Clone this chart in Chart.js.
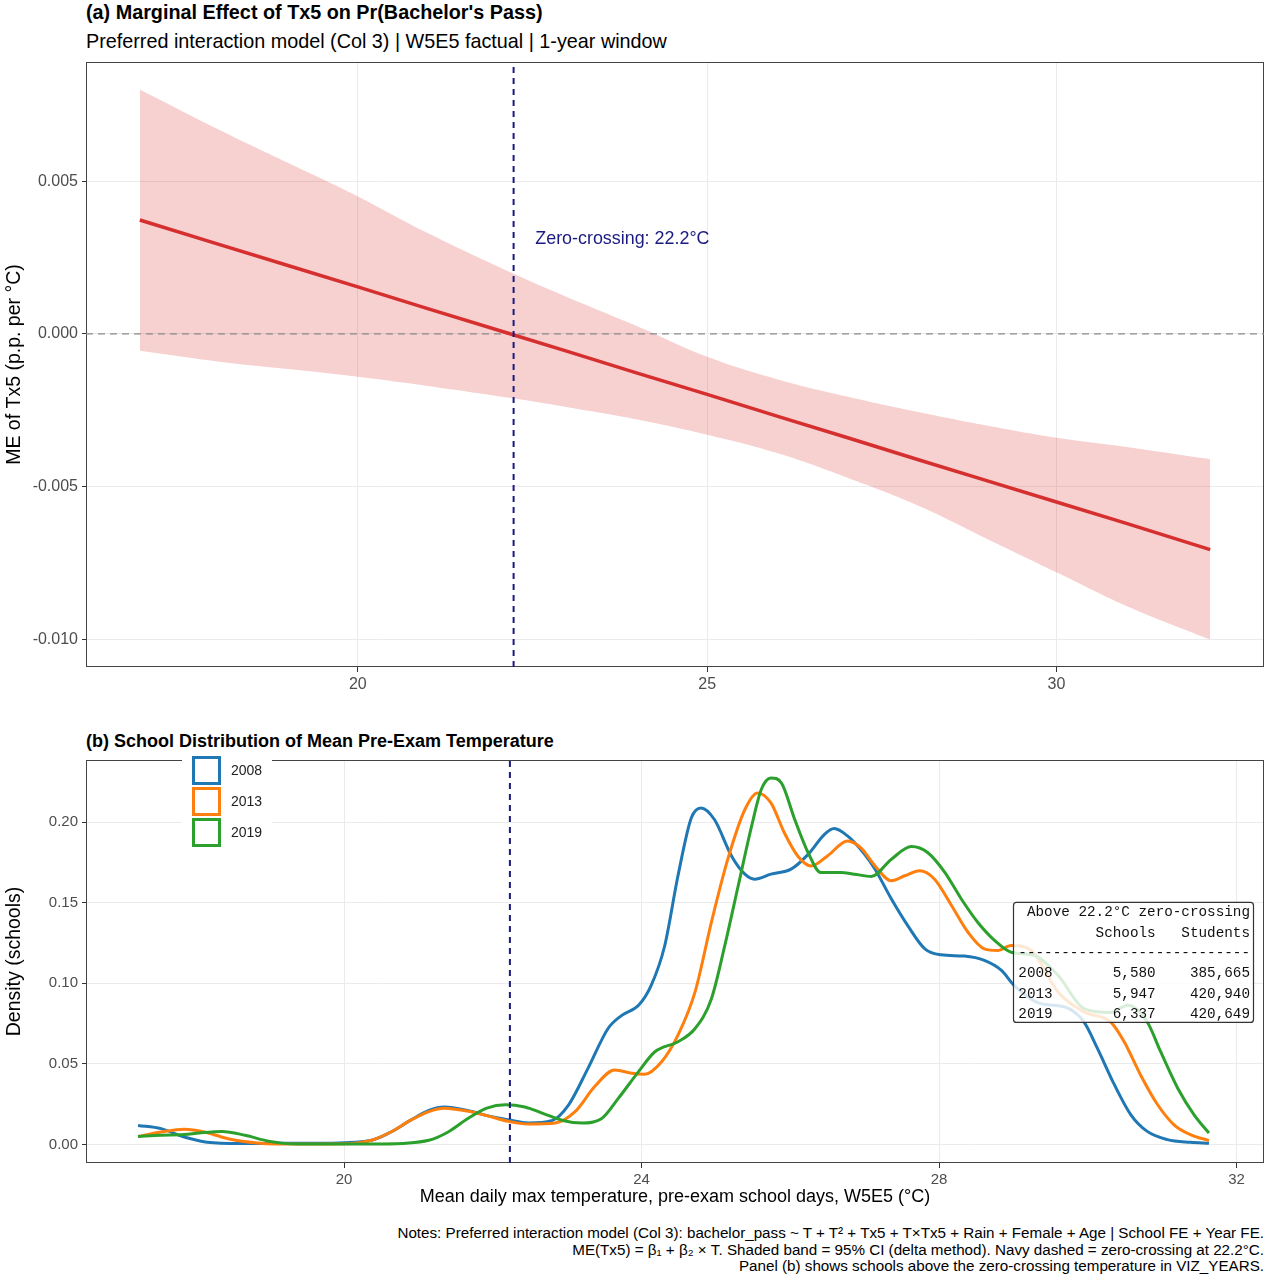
<!DOCTYPE html>
<html>
<head>
<meta charset="utf-8">
<script src="https://cdn.jsdelivr.net/npm/chart.js@4.4.1/dist/chart.umd.min.js"></script>
<style>
  body { margin: 0; background: #fff; font-family: "Liberation Sans", Arial, sans-serif; }
  #page { position: relative; width: 1265px; height: 1277px; overflow: hidden; }
  .txt { position: absolute; white-space: nowrap; color: #000; }
  .bold { font-weight: bold; }
  canvas { position: absolute; left: 0; }
</style>
</head>
<body>
<div id="page">
  <div class="txt bold" style="left:86px; top:0px; font-size:19.8px; line-height:24px;">(a) Marginal Effect of Tx5 on Pr(Bachelor's Pass)</div>
  <div class="txt" style="left:86px; top:29px; font-size:19.8px; line-height:24px;">Preferred interaction model (Col 3) | W5E5 factual | 1-year window</div>
  <canvas id="chartA" width="1265" height="700" style="top:0px;"></canvas>
  <div class="txt bold" style="left:86px; top:730px; font-size:18px; line-height:22px;">(b) School Distribution of Mean Pre-Exam Temperature</div>
  <canvas id="chartB" width="1265" height="500" style="top:720px;"></canvas>
  <div class="txt" style="right:1px; top:1225px; font-size:15.2px; line-height:16.5px; text-align:right; color:#000;">
    Notes: Preferred interaction model (Col 3): bachelor_pass ~ T + T² + Tx5 + T×Tx5 + Rain + Female + Age | School FE + Year FE.<br>
    ME(Tx5) = β₁ + β₂ × T. Shaded band = 95% CI (delta method). Navy dashed = zero-crossing at 22.2°C.<br>
    Panel (b) shows schools above the zero-crossing temperature in VIZ_YEARS.
  </div>
</div>
<script>
// ---- panel (a): marginal effect ----
const aTemp   = [16.88, 18, 19, 20, 21, 22.2, 23, 24, 25, 26, 27, 28, 29, 30, 31, 32.2];
const aEffect = [0.00373, 0.00294, 0.00224, 0.00154, 0.00083, -0.00001, -0.00057, -0.00128, -0.00198, -0.00269, -0.00339, -0.0041, -0.0048, -0.0055, -0.0062, -0.00706];
const aUpper  = [0.0080, 0.0067, 0.0056, 0.0045, 0.0033, 0.0020, 0.0012, 0.00025, -0.00075, -0.00148, -0.00205, -0.00255, -0.0030, -0.0034, -0.0037, -0.0041];
const aLower  = [-0.00055, -0.0009, -0.00115, -0.0014, -0.0017, -0.0021, -0.0024, -0.0028, -0.0033, -0.0039, -0.0047, -0.0056, -0.0067, -0.0078, -0.0089, -0.0100];
const aXTicks = [20, 25, 30];
const aYTicks = [-0.010, -0.005, 0, 0.005];
const zeroCross = 22.23;

// ---- panel (b): school densities ----
const t2008 = [17.23,17.54,17.85,18.16,18.6,19.2,19.8,20.37,20.63,20.89,21.14,21.35,21.66,21.92,22.21,22.48,22.79,23.02,23.28,23.55,23.73,23.96,24.13,24.31,24.49,24.67,24.80,24.98,25.21,25.39,25.52,25.74,26.01,26.24,26.46,26.59,26.77,27.0,27.14,27.36,27.58,27.81,28.03,28.34,28.61,28.84,29.01,29.37,29.69,29.95,30.13,30.36,30.58,30.8,31.07,31.38,31.63];
const d2008 = [0.0119,0.0099,0.0047,0.0015,0.0007,0.0008,0.0009,0.0027,0.0078,0.015,0.0212,0.0233,0.0212,0.018,0.0154,0.0134,0.0148,0.0247,0.0473,0.072,0.080,0.0864,0.0988,0.123,0.1667,0.2027,0.2088,0.2016,0.179,0.1677,0.1646,0.1677,0.1708,0.180,0.1924,0.196,0.1914,0.180,0.1708,0.1523,0.1358,0.1214,0.1177,0.1169,0.1142,0.108,0.0988,0.0874,0.0854,0.076,0.0597,0.037,0.0185,0.0082,0.0031,0.0014,0.0008];
const t2013 = [17.23,17.54,17.85,18.16,18.47,18.83,19.08,19.6,20.1,20.37,20.63,20.89,21.14,21.35,21.66,21.92,22.21,22.48,22.84,23.11,23.37,23.64,23.87,24.04,24.27,24.49,24.72,24.94,25.16,25.39,25.56,25.74,25.92,26.1,26.28,26.5,26.77,26.95,27.14,27.36,27.54,27.74,27.94,28.17,28.39,28.61,28.79,28.97,29.24,29.6,29.95,30.31,30.49,30.71,30.94,31.16,31.38,31.63];
const d2013 = [0.0051,0.0078,0.0095,0.0074,0.0033,0.001,0.0004,0.0004,0.0007,0.0027,0.0078,0.015,0.0205,0.0226,0.0208,0.018,0.0144,0.0128,0.0134,0.0206,0.036,0.0463,0.0442,0.0436,0.0514,0.0679,0.0947,0.138,0.177,0.2078,0.2181,0.2119,0.1934,0.179,0.1728,0.179,0.1883,0.184,0.1728,0.1636,0.1667,0.1698,0.1646,0.1481,0.1317,0.1214,0.1204,0.1235,0.1204,0.0947,0.0823,0.076,0.0638,0.0432,0.0247,0.0123,0.0062,0.0025];
const t2019 = [17.23,17.54,17.85,18.05,18.36,18.67,19.0,19.37,19.9,20.5,21.14,21.4,21.66,21.92,22.17,22.43,22.69,22.94,23.2,23.46,23.69,23.96,24.18,24.49,24.72,24.94,25.12,25.3,25.48,25.61,25.74,25.88,26.06,26.24,26.41,26.68,26.86,27.09,27.36,27.63,27.85,28.08,28.3,28.52,28.75,28.97,29.28,29.6,29.95,30.31,30.54,30.8,30.98,31.21,31.43,31.63];
const d2019 = [0.0051,0.0058,0.0062,0.0072,0.0082,0.0058,0.002,0.0004,0.0004,0.0004,0.0027,0.0078,0.016,0.0226,0.0247,0.0233,0.0191,0.015,0.0134,0.016,0.0288,0.0453,0.0576,0.0638,0.072,0.0905,0.1235,0.1605,0.1975,0.2202,0.2274,0.2243,0.2016,0.181,0.1687,0.1687,0.1677,0.1663,0.177,0.1848,0.181,0.1687,0.1523,0.1379,0.1265,0.1193,0.1173,0.105,0.0844,0.082,0.0864,0.076,0.0576,0.035,0.0185,0.0072];
const bXTicks = [20, 24, 28, 32];
const bYTicks = [0, 0.05, 0.10, 0.15, 0.20];

const tableYears    = ['2008', '2013', '2019'];
const tableSchools  = ['5,580', '5,947', '6,337'];
const tableStudents = ['385,665', '420,940', '420,649'];

const pts = (xs, ys) => xs.map((x, i) => ({x: x, y: ys[i]}));

Chart.defaults.font.family = '"Liberation Sans", Arial, sans-serif';
Chart.defaults.animation = false;

const panelBorder = {
  id: 'panelBorder',
  beforeDatasetsDraw(chart) {
    const {ctx, chartArea: c} = chart;
    ctx.save();
    ctx.strokeStyle = '#444';
    ctx.lineWidth = 1;
    ctx.strokeRect(c.left + 0.5, c.top + 0.5, c.right - c.left - 1, c.bottom - c.top - 1);
    ctx.restore();
  }
};

const zeroLabel = {
  id: 'zeroLabel',
  afterDatasetsDraw(chart) {
    const {ctx, scales} = chart;
    ctx.save();
    ctx.fillStyle = '#1a1a80';
    ctx.font = '17.9px "Liberation Sans", Arial, sans-serif';
    ctx.textBaseline = 'middle';
    ctx.fillText('Zero-crossing: 22.2°C', scales.x.getPixelForValue(zeroCross + 0.31), scales.y.getPixelForValue(0.0031));
    ctx.restore();
  }
};

const tickColor = '#4d4d4d';

function axisX(min, max, list, fontSize, title) {
  return {
    type: 'linear', min: min, max: max,
    afterBuildTicks: s => { s.ticks = list.map(v => ({value: v})); },
    afterFit: s => { s.height = title ? 57 : 33; },
    grid: {color: '#ebebeb', lineWidth: 1, tickColor: '#333', tickLength: 5, drawTicks: true},
    border: {display: false},
    ticks: {font: {size: fontSize}, color: tickColor, padding: 3, maxRotation: 0},
    title: title ? {display: true, text: title, color: '#000', font: {size: 18}, padding: {top: 0, bottom: 12}} : {display: false}
  };
}
function axisY(min, max, list, digits, fontSize, title) {
  return {
    type: 'linear', min: min, max: max,
    afterBuildTicks: s => { s.ticks = list.map(v => ({value: v})); },
    afterFit: s => { s.width = 86; },
    grid: {color: '#ebebeb', lineWidth: 1, tickColor: '#333', tickLength: 4, drawTicks: true},
    border: {display: false},
    ticks: {font: {size: fontSize}, color: tickColor, padding: 4, callback: v => v.toFixed(digits)},
    title: {display: true, text: title, color: '#000', font: {size: 19.5}, padding: {top: 3, bottom: 0}}
  };
}

new Chart(document.getElementById('chartA'), {
  type: 'line',
  data: {
    datasets: [
      {data: pts([zeroCross, zeroCross], [-0.0109, 0.0089]), borderColor: '#1a1a80', borderWidth: 2, borderDash: [6, 5], pointRadius: 0, fill: false, order: 0},
      {data: pts(aTemp, aEffect), borderColor: '#d62f2f', borderWidth: 3.5, pointRadius: 0, fill: false, order: 1},
      {data: pts([16.11, 32.97], [0, 0]), borderColor: '#8a8a8a', borderWidth: 1.3, borderDash: [7, 5], pointRadius: 0, fill: false, order: 2},
      {data: pts(aTemp, aUpper), borderWidth: 0, borderColor: 'rgba(0,0,0,0)', backgroundColor: 'rgba(220,40,40,0.22)', pointRadius: 0, fill: '+1', tension: 0.4, order: 3},
      {data: pts(aTemp, aLower), borderWidth: 0, borderColor: 'rgba(0,0,0,0)', pointRadius: 0, fill: false, tension: 0.4, order: 4}
    ]
  },
  options: {
    responsive: false,
    layout: {padding: {top: 62, right: 1, left: 0, bottom: 0}},
    plugins: {legend: {display: false}, tooltip: {enabled: false}},
    scales: {
      x: axisX(16.11, 32.97, aXTicks, 16, null),
      y: axisY(-0.0109, 0.0089, aYTicks, 3, 16, 'ME of Tx5 (p.p. per °C)')
    }
  },
  plugins: [panelBorder, zeroLabel]
});

const legendAndTable = {
  id: 'legendAndTable',
  afterDraw(chart) {
    const {ctx, chartArea: c, scales} = chart;
    ctx.save();
    // legend
    const lx = c.left + 96, ly = c.top - 9;
    ctx.fillStyle = '#fff';
    ctx.fillRect(lx, ly, 90, 100);
    const series = chart.data.datasets.filter(d => d.year).sort((a, b) => a.year - b.year);
    series.forEach((d, i) => {
      const ky = ly + 6.5 + i * 31;
      ctx.strokeStyle = d.borderColor;
      ctx.lineWidth = 3;
      ctx.strokeRect(lx + 11.5, ky, 26, 26);
      ctx.fillStyle = '#222';
      ctx.font = '14px "Liberation Sans", Arial, sans-serif';
      ctx.textBaseline = 'middle';
      ctx.textAlign = 'left';
      ctx.fillText(String(d.year), lx + 49, ky + 13.5);
    });
    // table
    const lines = ['Above 22.2°C zero-crossing',
      ''.padEnd(4) + 'Schools'.padStart(12) + 'Students'.padStart(11),
      '-'.repeat(27)];
    tableYears.forEach((y, i) => lines.push(y.padEnd(4) + tableSchools[i].padStart(12) + tableStudents[i].padStart(11)));
    const bw = 240, bh = 120;
    const bx = c.right - 11 - bw, by = scales.y.getPixelForValue(0.1505);
    ctx.beginPath();
    ctx.roundRect(bx + 0.5, by + 0.5, bw, bh, 3);
    ctx.fillStyle = 'rgba(255,255,255,0.82)';
    ctx.fill();
    ctx.strokeStyle = '#333';
    ctx.lineWidth = 1.2;
    ctx.stroke();
    ctx.fillStyle = '#111';
    ctx.font = '14.3px "Liberation Mono", "Courier New", monospace';
    ctx.textAlign = 'right';
    ctx.textBaseline = 'middle';
    lines.forEach((s, i) => ctx.fillText(s, bx + bw - 3, by + 10.5 + i * 20.4));
    ctx.restore();
  }
};

new Chart(document.getElementById('chartB'), {
  type: 'line',
  data: {
    datasets: [
      {data: pts([zeroCross, zeroCross], [-0.0114, 0.2385]), borderColor: '#1a1a80', borderWidth: 2, borderDash: [6, 5], pointRadius: 0, fill: false, order: 0},
      {year: 2019, data: pts(t2019, d2019), borderColor: '#2ca02c', borderWidth: 3, pointRadius: 0, fill: false, cubicInterpolationMode: 'monotone', order: 1},
      {year: 2013, data: pts(t2013, d2013), borderColor: '#ff7f0e', borderWidth: 3, pointRadius: 0, fill: false, cubicInterpolationMode: 'monotone', order: 2},
      {year: 2008, data: pts(t2008, d2008), borderColor: '#1f77b4', borderWidth: 3, pointRadius: 0, fill: false, cubicInterpolationMode: 'monotone', order: 3}
    ]
  },
  options: {
    responsive: false,
    layout: {padding: {top: 40, right: 1, left: 0, bottom: 0}},
    plugins: {legend: {display: false}, tooltip: {enabled: false}},
    scales: {
      x: axisX(16.53, 32.37, bXTicks, 15, 'Mean daily max temperature, pre-exam school days, W5E5 (°C)'),
      y: axisY(-0.0114, 0.2385, bYTicks, 2, 15, 'Density (schools)')
    }
  },
  plugins: [panelBorder, legendAndTable]
});
</script>
</body>
</html>
